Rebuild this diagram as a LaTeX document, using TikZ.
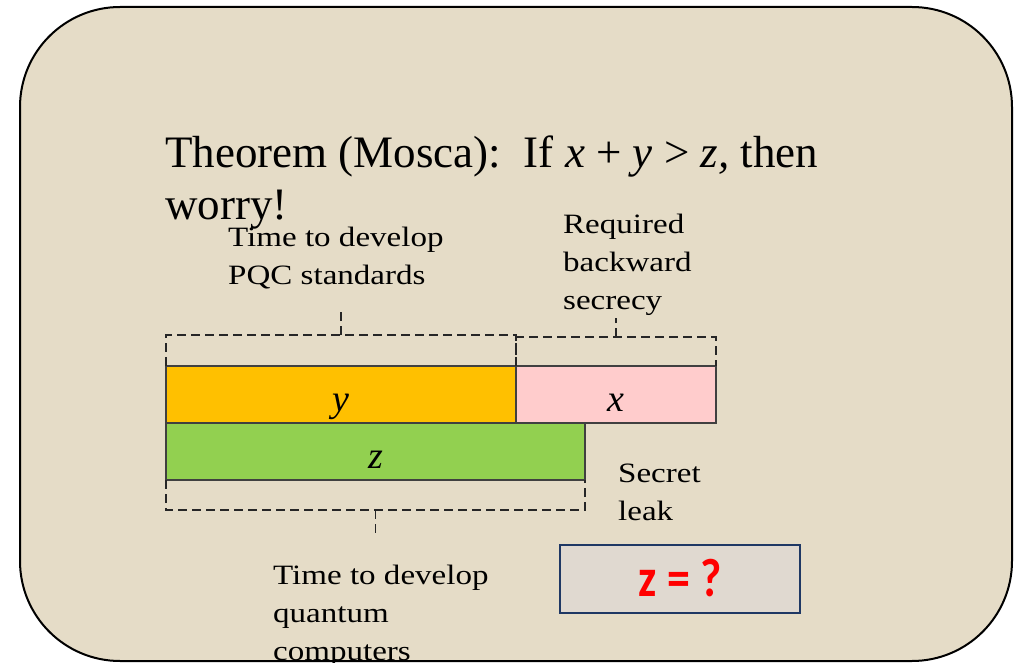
\documentclass[tikz,border=0pt]{standalone}
\usepackage{fontspec}
\setmainfont{Liberation Serif}
\newfontfamily\labelfont{Liberation Serif}[FakeStretch=1.18]
\newfontfamily\qfont{Carlito}[FakeStretch=0.85]
\usetikzlibrary{positioning}

\definecolor{cBack}{HTML}{E5DCC7}
\definecolor{cBarY}{HTML}{FFC000}
\definecolor{cBarX}{HTML}{FFCCCC}
\definecolor{cBarZ}{HTML}{92D050}
\definecolor{cEdge}{HTML}{404040}
\definecolor{cNavy}{HTML}{1F3864}
\definecolor{cQBox}{HTML}{E0D9D0}

\tikzset{
  bar/.style={draw=cEdge, line width=1.3pt, minimum height=57pt, inner sep=0pt,
    outer sep=0pt, anchor=north west, text height=33pt, text depth=0pt,
    font=\fontsize{38}{44}\selectfont\itshape},
  brace/.style={black!85, line width=1.5pt, dash pattern=on 9pt off 5pt},
  lbl/.style={anchor=base west, align=left, inner sep=0pt,
    font=\labelfont\fontsize{28}{38}\selectfont},
}

\begin{document}
\begin{tikzpicture}[x=1pt, y=-1pt]
  \useasboundingbox (0,0) rectangle (1026,663);

  % --------------------------------------------------------------------------
  % Panel
  % --------------------------------------------------------------------------
  \draw[fill=cBack, line width=2pt, rounded corners=100pt] (20,7) rectangle (1012,661);

  % base of a multi-line node = baseline of its last line
  \node[anchor=base west, align=left, inner sep=0pt,
        font=\fontsize{45}{52}\selectfont] (title) at (165,220)
    {Theorem (Mosca):\ \ If \textit{x} + \textit{y} > \textit{z,} then\\worry!};

  % --------------------------------------------------------------------------
  % Bars: y and x on top, z below
  % --------------------------------------------------------------------------
  \node[bar, fill=cBarY, minimum width=350pt] (bary) at (166,366) {y};
  \node[bar, fill=cBarX, minimum width=200pt] (barx) at (bary.north east) {x};
  \node[bar, fill=cBarZ, minimum width=419pt] (barz) at (bary.south west) {z};

  % --------------------------------------------------------------------------
  % Dashed brackets with ticks
  % --------------------------------------------------------------------------
  \draw[brace] (bary.north west) -- ([yshift=31pt]bary.north west)
    -- ([yshift=31pt]bary.north east) -- (bary.north east);
  \draw[brace] ([yshift=31pt]bary.north) -- ([yshift=54pt]bary.north);

  \draw[brace] (barx.north west) -- ([yshift=29pt]barx.north west)
    -- ([yshift=29pt]barx.north east) -- (barx.north east);
  \draw[brace] ([yshift=29pt]barx.north) -- ([yshift=48pt]barx.north);

  \draw[brace] (barz.south west) -- ([yshift=-30pt]barz.south west)
    -- ([yshift=-30pt]barz.south east) -- (barz.south east);
  \draw[brace] ([yshift=-30pt]barz.south) -- ([yshift=-57pt]barz.south);

  % --------------------------------------------------------------------------
  % Labels
  % --------------------------------------------------------------------------
  \node[lbl] (lblpqc) at (228,284) {Time to develop\\PQC standards};
  \node[lbl] (lblsecrecy) at (563,309) {Required\\backward\\secrecy};
  \node[lbl] (lblleak) at (618,520) {Secret\\leak};
  \node[lbl] (lblqc) at (273,660) {Time to develop\\quantum\\computers};

  % --------------------------------------------------------------------------
  % Question box
  % --------------------------------------------------------------------------
  \node[draw=cNavy, line width=2pt, fill=cQBox, minimum width=240pt,
        minimum height=68pt, text=red, text height=34pt, text depth=0pt,
        font=\qfont\bfseries\fontsize{54}{60}\selectfont]
    (zq) at (680,579) {z = ?};

\end{tikzpicture}
\end{document}
